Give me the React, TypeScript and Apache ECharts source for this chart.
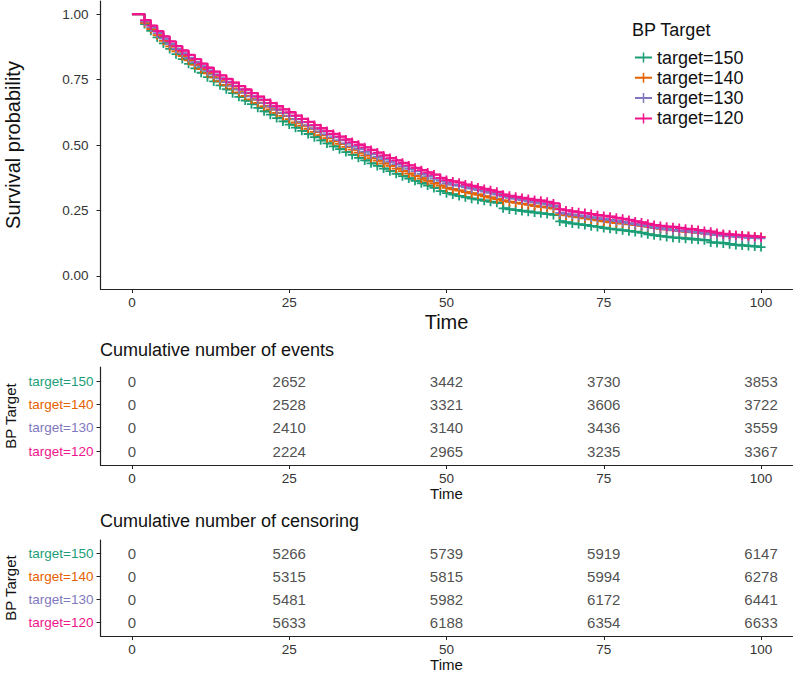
import React, { useEffect, useRef } from "react";
import * as echarts from "echarts";

const groups = ["target=150", "target=140", "target=130", "target=120"];
const colors = ["#1B9E77", "#E66100", "#7F78BE", "#F0158C"];

// survival probability read at each integer time 0..100
const surv150 = [
  1, 1, 0.962, 0.936, 0.911, 0.888, 0.867, 0.847, 0.828, 0.81, 0.793, 0.776, 0.759, 0.743, 0.728, 0.713, 0.698, 0.684, 0.67, 0.656,
  0.642, 0.629, 0.616, 0.603, 0.59, 0.578, 0.566, 0.554, 0.542, 0.53, 0.518, 0.506, 0.495, 0.484, 0.473, 0.462, 0.451, 0.441, 0.43, 0.42,
  0.41, 0.4, 0.39, 0.381, 0.372, 0.363, 0.354, 0.345, 0.336, 0.324, 0.316, 0.311, 0.305, 0.3, 0.295, 0.291, 0.287, 0.283, 0.279, 0.258,
  0.254, 0.251, 0.248, 0.245, 0.242, 0.239, 0.236, 0.233, 0.208, 0.204, 0.2, 0.197, 0.194, 0.19, 0.187, 0.183, 0.18, 0.177, 0.174, 0.171,
  0.168, 0.164, 0.159, 0.155, 0.152, 0.149, 0.146, 0.144, 0.142, 0.14, 0.138, 0.136, 0.128, 0.126, 0.124, 0.121, 0.118, 0.116, 0.114, 0.112,
  0.11,
];
const surv140 = [
  1, 1, 0.967, 0.943, 0.92, 0.898, 0.877, 0.858, 0.84, 0.823, 0.806, 0.79, 0.774, 0.758, 0.743, 0.729, 0.715, 0.701, 0.688, 0.674,
  0.661, 0.648, 0.636, 0.623, 0.611, 0.599, 0.586, 0.574, 0.562, 0.55, 0.538, 0.526, 0.515, 0.504, 0.493, 0.482, 0.471, 0.46, 0.45, 0.44,
  0.43, 0.42, 0.41, 0.4, 0.391, 0.382, 0.372, 0.363, 0.354, 0.345, 0.336, 0.331, 0.326, 0.32, 0.315, 0.31, 0.304, 0.299, 0.293, 0.287,
  0.283, 0.279, 0.275, 0.271, 0.267, 0.264, 0.261, 0.257, 0.235, 0.231, 0.227, 0.224, 0.22, 0.216, 0.212, 0.208, 0.205, 0.202, 0.2, 0.197,
  0.194, 0.191, 0.187, 0.183, 0.18, 0.177, 0.174, 0.171, 0.168, 0.166, 0.164, 0.162, 0.16, 0.158, 0.156, 0.154, 0.153, 0.152, 0.151, 0.15,
  0.149,
];
const surv130 = [
  1, 1, 0.972, 0.949, 0.927, 0.906, 0.886, 0.867, 0.85, 0.833, 0.816, 0.8, 0.784, 0.769, 0.754, 0.74, 0.726, 0.712, 0.699, 0.686,
  0.673, 0.66, 0.647, 0.635, 0.623, 0.611, 0.599, 0.587, 0.575, 0.563, 0.552, 0.541, 0.53, 0.519, 0.506, 0.495, 0.485, 0.475, 0.465, 0.455,
  0.446, 0.437, 0.427, 0.418, 0.409, 0.4, 0.39, 0.381, 0.372, 0.363, 0.354, 0.348, 0.344, 0.338, 0.333, 0.328, 0.322, 0.317, 0.311, 0.303,
  0.298, 0.294, 0.29, 0.285, 0.281, 0.277, 0.272, 0.266, 0.241, 0.237, 0.233, 0.23, 0.227, 0.223, 0.22, 0.217, 0.213, 0.209, 0.205, 0.201,
  0.197, 0.193, 0.189, 0.184, 0.181, 0.178, 0.175, 0.172, 0.17, 0.167, 0.165, 0.162, 0.159, 0.156, 0.153, 0.151, 0.149, 0.147, 0.145, 0.144,
  0.143,
];
const surv120 = [
  1, 1, 0.977, 0.956, 0.935, 0.915, 0.896, 0.878, 0.861, 0.844, 0.828, 0.811, 0.795, 0.78, 0.766, 0.752, 0.738, 0.725, 0.712, 0.698,
  0.685, 0.672, 0.66, 0.648, 0.636, 0.625, 0.612, 0.6, 0.588, 0.576, 0.564, 0.553, 0.542, 0.532, 0.521, 0.511, 0.501, 0.491, 0.481, 0.471,
  0.46, 0.45, 0.441, 0.432, 0.422, 0.413, 0.404, 0.395, 0.387, 0.374, 0.366, 0.361, 0.356, 0.349, 0.344, 0.338, 0.332, 0.327, 0.321, 0.31,
  0.306, 0.302, 0.298, 0.294, 0.29, 0.287, 0.283, 0.277, 0.254, 0.25, 0.246, 0.243, 0.24, 0.236, 0.232, 0.229, 0.226, 0.222, 0.218, 0.214,
  0.208, 0.204, 0.199, 0.194, 0.191, 0.188, 0.186, 0.183, 0.18, 0.178, 0.175, 0.172, 0.169, 0.164, 0.16, 0.158, 0.156, 0.154, 0.152, 0.15,
  0.148,
];
const survSeries = [surv150, surv140, surv130, surv120];

const timeTicks = [0, 25, 50, 75, 100];
const survTicks = [0, 0.25, 0.5, 0.75, 1];

const tableTimes = [0, 25, 50, 75, 100];
const events150 = [0, 2652, 3442, 3730, 3853];
const events140 = [0, 2528, 3321, 3606, 3722];
const events130 = [0, 2410, 3140, 3436, 3559];
const events120 = [0, 2224, 2965, 3235, 3367];
const censor150 = [0, 5266, 5739, 5919, 6147];
const censor140 = [0, 5315, 5815, 5994, 6278];
const censor130 = [0, 5481, 5982, 6172, 6441];
const censor120 = [0, 5633, 6188, 6354, 6633];
const eventsRows = [events150, events140, events130, events120];
const censorRows = [censor150, censor140, censor130, censor120];
const rowLevels = [4, 3, 2, 1];

const FONT = "'Liberation Sans', Arial, Helvetica, sans-serif";
const AXIS = "#222";
const TXT = "#333";
const PLUS = "path://M-0.9,-4.5h1.8v3.6h3.6v1.8h-3.6v3.6h-1.8v-3.6h-3.6v-1.8h3.6z";
const LEGEND_ICON = "path://M0,4h17v2h-17z M7.75,0h1.5v10h-1.5z";

function xAxisFor(gridIndex: number, nameGap: number, nameSize: number, labelMargin: number) {
  return {
    type: "value",
    gridIndex,
    min: -5,
    max: 105,
    name: "Time",
    nameLocation: "middle",
    nameGap,
    nameTextStyle: { fontSize: nameSize, color: "#111", fontFamily: FONT },
    axisLine: { show: true, onZero: false, lineStyle: { color: AXIS, width: 1.2 } },
    axisTick: { show: true, customValues: timeTicks, length: 4, lineStyle: { color: AXIS } },
    axisLabel: { customValues: timeTicks, margin: labelMargin, fontSize: 13.5, color: TXT, fontFamily: FONT },
    splitLine: { show: false },
  };
}

function tableYAxis(gridIndex: number) {
  return {
    type: "value",
    gridIndex,
    min: 0.4,
    max: 4.6,
    name: "BP Target",
    nameLocation: "middle",
    nameGap: 82,
    nameRotate: 90,
    nameTextStyle: { fontSize: 15, color: "#111", fontFamily: FONT },
    axisLine: { show: true, onZero: false, lineStyle: { color: AXIS, width: 1.2 } },
    axisTick: { show: true, customValues: rowLevels, length: 4, lineStyle: { color: AXIS } },
    axisLabel: {
      customValues: rowLevels,
      margin: 7,
      fontFamily: FONT,
      formatter: (v: number) => {
        const i = rowLevels.indexOf(Math.round(v));
        return i >= 0 ? `{g${i}|${groups[i]}}` : "";
      },
      rich: {
        g0: { color: colors[0], fontSize: 13.5, fontFamily: FONT },
        g1: { color: colors[1], fontSize: 13.5, fontFamily: FONT },
        g2: { color: colors[2], fontSize: 13.5, fontFamily: FONT },
        g3: { color: colors[3], fontSize: 13.5, fontFamily: FONT },
      },
    },
    splitLine: { show: false },
  };
}

function tableSeries(rows: number[][], axisIndex: number) {
  return rows.map((row, gi) => ({
    type: "scatter",
    name: "tbl" + axisIndex + "_" + gi,
    xAxisIndex: axisIndex,
    yAxisIndex: axisIndex,
    symbolSize: 1,
    itemStyle: { color: "transparent" },
    silent: true,
    label: {
      show: true,
      position: "inside",
      formatter: (p: any) => String(p.value[2]),
      fontSize: 15,
      color: "#222",
      fontFamily: FONT,
    },
    data: tableTimes.map((t, i) => [t, rowLevels[gi], row[i]]),
  }));
}

export default function App() {
  const ref = useRef<HTMLDivElement>(null);
  useEffect(() => {
    if (!ref.current) return;
    const chart = echarts.init(ref.current, undefined, { renderer: "svg" });
    const lineSeries = survSeries.map((arr, gi) => ({
      type: "line",
      name: groups[gi],
      xAxisIndex: 0,
      yAxisIndex: 0,
      step: "end",
      symbol: PLUS,
      symbolSize: (v: number[]) => (v[0] >= 2 ? 9 : 0),
      showSymbol: true,
      showAllSymbol: true,
      lineStyle: { color: colors[gi], width: 2.3 },
      itemStyle: { color: colors[gi] },
      z: 2 + gi,
      data: arr.map((s, i) => [i, s]),
    }));
    const gridBase = { outerBoundsMode: "none", containLabel: false };
    chart.setOption({
      animation: false,
      backgroundColor: "#fff",
      textStyle: { fontFamily: FONT },
      grid: [
        { ...gridBase, left: 100.5, top: 1, width: 692, height: 288 },
        { ...gridBase, left: 100.5, top: 367, width: 692, height: 98 },
        { ...gridBase, left: 100.5, top: 540, width: 692, height: 96 },
      ],
      xAxis: [xAxisFor(0, 23, 20, 6), xAxisFor(1, 21, 15, 6), xAxisFor(2, 21, 15, 6)],
      yAxis: [
        {
          type: "value",
          gridIndex: 0,
          min: -0.05,
          max: 1.05,
          name: "Survival probability",
          nameLocation: "middle",
          nameGap: 78,
          nameTextStyle: { fontSize: 20, color: "#111", fontFamily: FONT },
          axisLine: { show: true, onZero: false, lineStyle: { color: AXIS, width: 1.2 } },
          axisTick: { show: true, customValues: survTicks, length: 4, lineStyle: { color: AXIS } },
          axisLabel: {
            customValues: survTicks,
            margin: 12,
            fontSize: 13.5,
            color: TXT,
            fontFamily: FONT,
            formatter: (v: number) => v.toFixed(2),
          },
          splitLine: { show: false },
        },
        tableYAxis(1),
        tableYAxis(2),
      ],
      legend: {
        data: groups,
        orient: "vertical",
        left: 630,
        top: 42.5,
        itemWidth: 17,
        itemHeight: 10,
        itemGap: 0.3,
        icon: LEGEND_ICON,
        textStyle: { fontSize: 18, lineHeight: 20, color: "#111", fontFamily: FONT },
        selectedMode: false,
      },
      graphic: [
        {
          type: "text",
          left: 632,
          top: 21,
          style: { text: "BP Target", fontSize: 18, fill: "#111", fontFamily: FONT },
        },
        {
          type: "text",
          left: 100,
          top: 341,
          style: { text: "Cumulative number of events", fontSize: 18, fill: "#111", fontFamily: FONT },
        },
        {
          type: "text",
          left: 100,
          top: 512,
          style: { text: "Cumulative number of censoring", fontSize: 18, fill: "#111", fontFamily: FONT },
        },
      ],
      series: [...lineSeries, ...tableSeries(eventsRows, 1), ...tableSeries(censorRows, 2)],
    });
    return () => chart.dispose();
  }, []);
  return (
    <div
      ref={ref}
      style={{ position: "fixed", left: 0, top: 0, width: 794, height: 673, background: "#fff" }}
    />
  );
}
